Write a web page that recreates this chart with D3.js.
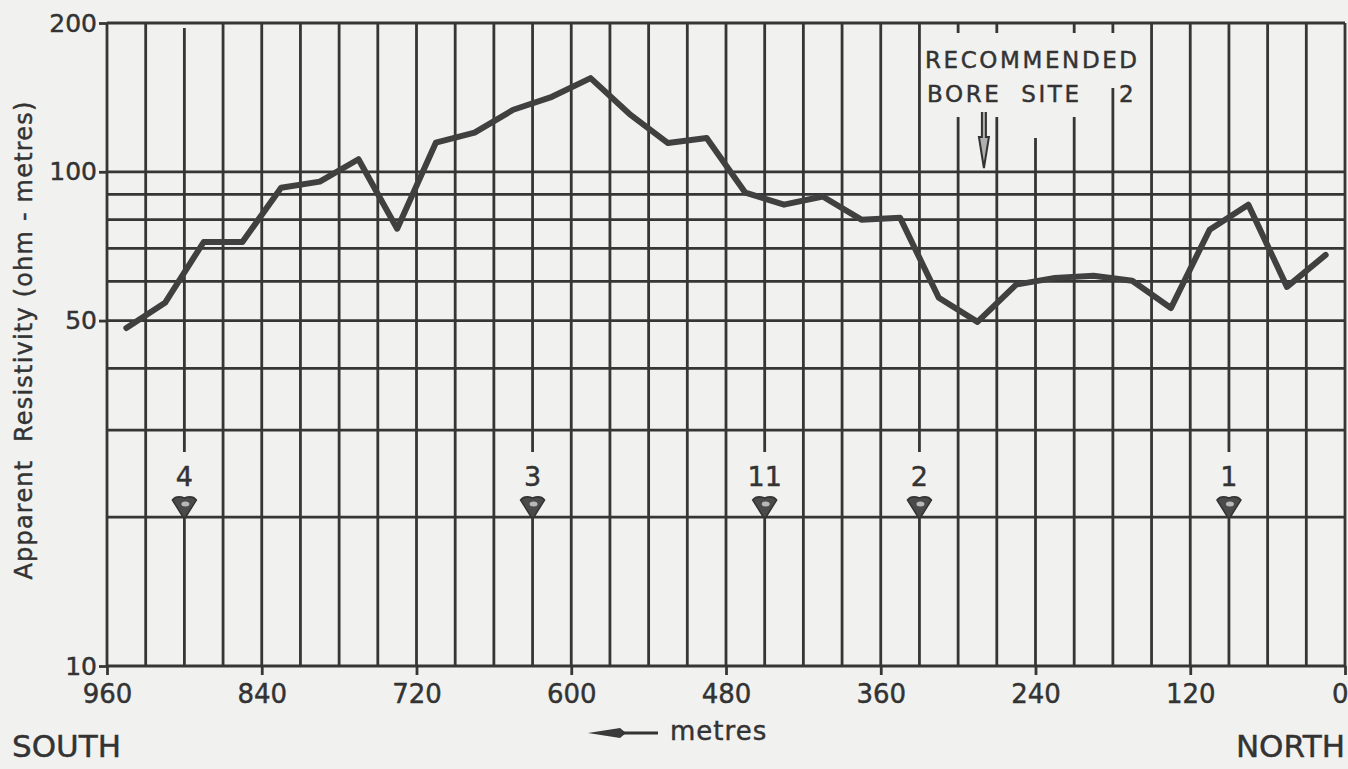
<!DOCTYPE html>
<html>
<head>
<meta charset="utf-8">
<script src="https://cdn.jsdelivr.net/npm/d3@7"></script>
<style>
	body {margin: 0; background: #f1f1ef;}
	svg {display: block;}
	text {font-family: "DejaVu Sans", sans-serif; fill: #333; stroke: #333; stroke-width: 0.45px;}
</style>
</head>
<body>
<svg id="chart" width="1348" height="769"></svg>
<script>
/*** Data ***/
// distance along traverse (metres, south -> north reads 960 -> 0)
var dist = [945, 915, 885, 855, 825, 795, 765, 735, 705, 675, 645, 615, 585, 555, 525, 495,
            465, 435, 405, 375, 345, 315, 285, 255, 225, 195, 165, 135, 105, 75, 45, 15]
// apparent resistivity (ohm-metres)
var rho  = [48.3, 54.3, 72.1, 72.1, 92.8, 95.5, 106, 76.7, 114.5, 120, 133.5, 141.8, 154.7, 131, 114.3, 117,
            90.7, 85.8, 89.1, 80, 80.7, 55.6, 49.7, 59.1, 61, 61.6, 60.2, 53, 76.3, 85.8, 58.5, 67.9]

var xTicks = [960, 840, 720, 600, 480, 360, 240, 120, 0]
var yTicks = [10, 50, 100, 200]
var yGrid  = [20, 30, 40, 50, 60, 70, 80, 90, 100]
var xGridStep = 30

var stationNames = ["4", "3", "11", "2", "1"]
var stationDist  = [900, 630, 450, 330, 90]
var boreSite = 280

/*** Scales ***/
var svg = d3.select("#chart")
var x = d3.scaleLinear().domain([960, 0]).range([107, 1345])
var y = d3.scaleLog().domain([10, 200]).range([666, 23])
var ink = "#363636"

// vertical line segments, with breaks for station labels and the bore site note
function segs(d) {
	var top = y(200), bot = y(10)
	if (stationDist.indexOf(d) >= 0) return [[top + (d == 900 ? 5 : 0), 452], [516, bot]]
	if (d == 300 || d == 270 || d == 210) return [[top, 33], [117, bot]]
	if (d == 240) return [[138, bot]]
	if (d == 180) return [[top, 33], [88, bot]]
	return [[top, bot]]
}

/*** Grid ***/
var g = svg.append("g").attr("class", "grid")
g.selectAll("line.h")
 .data(yGrid.concat([10, 200]))
 .enter().append("line")
 .attr("class", "h")
 .attr("x1", x(960)).attr("x2", x(0))
 .attr("y1", (d) => y(d)).attr("y2", (d) => y(d))
 .attr("stroke", ink).attr("stroke-width", 2.8)

var vs = []
d3.range(0, 961, xGridStep).forEach((d) => {segs(d).forEach((s) => vs.push({d: d, y0: s[0], y1: s[1]}))})
g.selectAll("line.v")
 .data(vs)
 .enter().append("line")
 .attr("class", "v")
 .attr("x1", (s) => x(s.d)).attr("x2", (s) => x(s.d))
 .attr("y1", (s) => s.y0).attr("y2", (s) => s.y1)
 .attr("stroke", ink).attr("stroke-width", 2.8)

/*** Axes ***/
var xa = svg.append("g")
            .attr("transform", "translate(0," + y(10) + ")")
            .call(d3.axisBottom(x).tickValues(xTicks).tickSize(9).tickFormat(d3.format("d")))
xa.select(".domain").remove()
xa.selectAll("line").attr("stroke", ink).attr("stroke-width", 2.8)
xa.selectAll("text").attr("y", 37).attr("dy", null)
  .style("font-size", "26px").style("font-family", "DejaVu Sans").attr("fill", "#333")
// the 0 label sits at the page edge; keep it inside
xa.selectAll("text").filter((d) => d == 0).attr("text-anchor", "end").attr("x", 3)

var ya = svg.append("g")
            .attr("transform", "translate(" + x(960) + ",0)")
            .call(d3.axisLeft(y).tickValues(yTicks).tickSize(8).tickPadding(2).tickFormat(d3.format("d")))
ya.select(".domain").remove()
ya.selectAll("line").attr("stroke", ink).attr("stroke-width", 2.8)
ya.selectAll("text").style("font-size", "25px").style("font-family", "DejaVu Sans").attr("fill", "#333")

svg.append("text")
   .attr("transform", "translate(32,340) rotate(-90)")
   .attr("text-anchor", "middle")
   .style("font-size", "24px").style("letter-spacing", "1.2px")
   .attr("xml:space", "preserve")
   .text("Apparent  Resistivity (ohm - metres)")

/*** Resistivity profile ***/
var line = d3.line().x((d) => x(d[0])).y((d) => y(d[1]))
svg.append("path")
   .datum(dist.map((d, i) => [d, rho[i]]))
   .attr("d", line)
   .attr("fill", "none")
   .attr("stroke", "#404040")
   .attr("stroke-width", 6)
   .attr("stroke-linejoin", "round")
   .attr("stroke-linecap", "round")

/*** Stations ***/
var st = svg.append("g").selectAll("g")
            .data(stationDist.map((d, i) => ({d: d, name: stationNames[i]})))
            .enter().append("g")
            .attr("transform", (s) => "translate(" + x(s.d) + ",0)")
st.append("text")
  .attr("y", 486).attr("text-anchor", "middle")
  .style("font-size", "27px")
  .text((s) => s.name)
st.append("path")
  .attr("d", "M-12,500 Q-8,495 0,498 Q8,495 12,500 L2,516 Q0,519 -2,516 Z")
  .attr("fill", "#4a4a4a").attr("stroke", "#333").attr("stroke-width", 1.5)
st.append("ellipse")
  .attr("cx", 1).attr("cy", 504).attr("rx", 4).attr("ry", 2.5)
  .attr("fill", "#b8b8b8")

/*** Bore site note ***/
svg.append("text").attr("x", 925).attr("y", 68)
   .style("font-size", "23px").style("letter-spacing", "2.6px")
   .text("RECOMMENDED")
svg.append("text").attr("x", 927).attr("y", 102)
   .style("font-size", "23px").style("letter-spacing", "2.6px")
   .attr("xml:space", "preserve")
   .text("BORE  SITE")
svg.append("text").attr("x", 1119).attr("y", 102)
   .style("font-size", "23px")
   .text("2")
var bx = x(boreSite)
svg.append("path")
   .attr("d", "M" + (bx - 2) + ",112 L" + (bx - 2) + ",137 L" + (bx - 5) + ",137 L" + bx + ",168 L" + (bx + 5) + ",137 L" + (bx + 2) + ",137 L" + (bx + 2) + ",112")
   .attr("fill", "#b0b0b0").attr("stroke", "#333").attr("stroke-width", 2)

/*** Direction labels ***/
svg.append("text").attr("x", 12).attr("y", 757).style("font-size", "31px").text("SOUTH")
svg.append("text").attr("x", 1345).attr("y", 757).attr("text-anchor", "end").style("font-size", "31px").text("NORTH")
svg.append("path")
   .attr("d", "M588,733 L620,728 L626,733 L620,738 Z")
   .attr("fill", "#3a3a3a")
svg.append("line")
   .attr("x1", 622).attr("x2", 658).attr("y1", 733).attr("y2", 733)
   .attr("stroke", "#333").attr("stroke-width", 2.8)
svg.append("text").attr("x", 670).attr("y", 740)
   .style("font-size", "26px").style("letter-spacing", "1px")
   .text("metres")
</script>
</body>
</html>
